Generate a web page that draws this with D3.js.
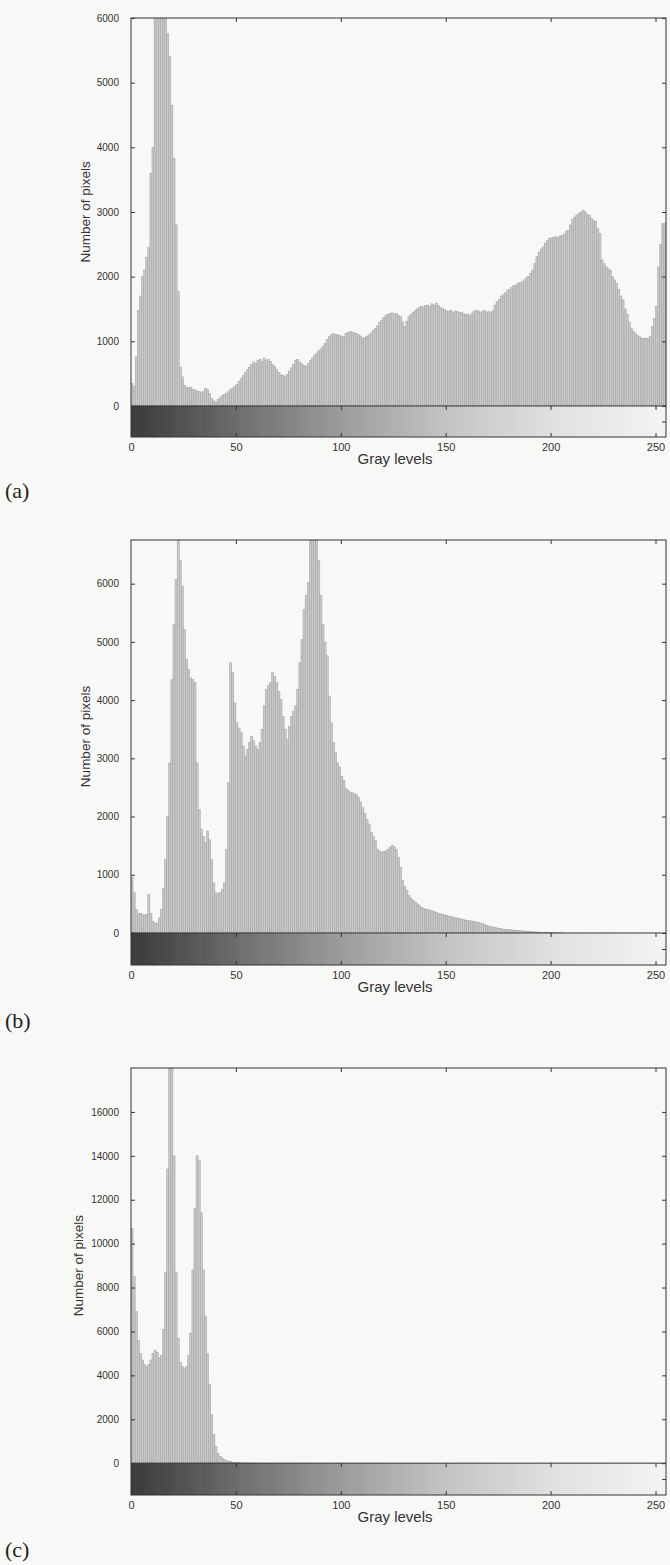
<!DOCTYPE html>
<html>
<head>
<meta charset="utf-8">
<script src="https://cdn.jsdelivr.net/npm/d3@7"></script>
<style>
  body { margin: 0; background: #f8f8f6; }
  svg text { font-family: "Liberation Sans", Arial, sans-serif; fill: #333; }
  .tick line { stroke: #333; }
  .panelLabel { font-family: "Liberation Serif", "Times New Roman", serif; font-size: 22px; fill: #222; }
</style>
</head>
<body>
<div id="chart"></div>
<script>
// Histogram counts, one value per gray level 0..255
var histA = [
  350, 300, 760, 1480, 1700, 2000, 2100, 2300, 2450, 3600, 4000, 6500, 7200, 7800, 8000, 7600,
  6800, 5760, 5400, 4650, 3830, 2800, 1770, 600, 450, 320, 290, 280, 290, 260, 250, 230,
  220, 210, 220, 270, 260, 190, 120, 80, 60, 100, 130, 160, 180, 200, 220, 250,
  270, 300, 330, 380, 420, 470, 520, 560, 600, 640, 680, 660, 700, 720, 690, 740,
  700, 720, 690, 640, 610, 560, 520, 480, 470, 460, 490, 540, 590, 640, 700, 720,
  680, 650, 630, 610, 660, 700, 740, 780, 810, 850, 880, 920, 970, 1030, 1070, 1100,
  1120, 1110, 1100, 1090, 1070, 1080, 1120, 1140, 1150, 1140, 1130, 1120, 1100, 1080, 1050, 1060,
  1080, 1100, 1130, 1170, 1200, 1240, 1290, 1320, 1370, 1400, 1420, 1430, 1440, 1420, 1430, 1400,
  1380, 1300, 1230, 1310, 1380, 1420, 1450, 1480, 1500, 1520, 1540, 1530, 1550, 1560, 1540, 1580,
  1560, 1590, 1550, 1520, 1510, 1490, 1470, 1460, 1480, 1450, 1470, 1460, 1440, 1450, 1430, 1410,
  1420, 1400, 1430, 1460, 1480, 1470, 1450, 1460, 1480, 1450, 1460, 1440, 1470, 1560, 1610, 1650,
  1700, 1720, 1750, 1790, 1800, 1830, 1860, 1870, 1900, 1910, 1920, 1950, 1980, 2000, 2050, 2100,
  2200, 2310, 2380, 2430, 2460, 2520, 2560, 2590, 2600, 2610, 2620, 2600, 2630, 2640, 2660, 2700,
  2720, 2800, 2880, 2920, 2950, 2980, 3000, 3030, 3000, 2960, 2950, 2900, 2870, 2850, 2750, 2670,
  2260, 2200, 2150, 2120, 2100, 2000, 1950, 1900, 1800, 1700, 1640, 1500, 1420, 1300, 1200, 1150,
  1120, 1090, 1070, 1050, 1040, 1050, 1050, 1080, 1230, 1350, 1540, 2150, 2500, 2820, 2820, 2850
];

var histB = [
  950, 690, 400, 340, 340, 320, 310, 320, 660, 340, 200, 170, 170, 260, 400, 770,
  1260, 2000, 2920, 4350, 5300, 6070, 7200, 6400, 5960, 5210, 4700, 4530, 4380, 4350, 4300, 2920,
  2120, 1780, 1660, 1550, 1750, 1600, 1260, 860, 690, 680, 700, 745, 860, 1430, 2580, 4640,
  4470, 3950, 3610, 3520, 3440, 3210, 3040, 3150, 3270, 3380, 3300, 3210, 3150, 3270, 3500, 3900,
  4180, 4250, 4300, 4470, 4410, 4300, 4150, 4010, 3720, 3500, 3320, 3550, 3720, 3800, 3900, 4180,
  4640, 5040, 5560, 5800, 6020, 7000, 7400, 7100, 6900, 6400, 5800, 5300, 5000, 4760, 4070, 3610,
  3270, 3100, 2920, 2850, 2690, 2620, 2480, 2450, 2420, 2410, 2390, 2380, 2330, 2250, 2150, 2050,
  1950, 1870, 1730, 1660, 1590, 1440, 1410, 1390, 1400, 1410, 1440, 1470, 1500, 1480, 1440, 1300,
  1130, 900, 800, 730, 640, 600, 560, 530, 500, 470, 440, 425, 410, 400, 390, 380,
  370, 355, 340, 330, 320, 310, 300, 290, 280, 270, 265, 255, 250, 240, 230, 220,
  215, 210, 205, 200, 190, 180, 170, 160, 145, 130, 120, 110, 100, 95, 85, 80,
  75, 65, 60, 58, 55, 52, 50, 47, 43, 40, 37, 33, 30, 27, 23, 20,
  18, 16, 15, 13, 12, 10, 8, 7, 6, 5, 4, 3, 2, 1, 0, 0,
  0, 0, 0, 0, 0, 0, 0, 0, 0, 0, 0, 0, 0, 0, 0, 0,
  0, 0, 0, 0, 0, 0, 0, 0, 0, 0, 0, 0, 0, 0, 0, 0,
  0, 0, 0, 0, 0, 0, 0, 0, 0, 0, 0, 0, 0, 0, 0, 0
];

var histC = [
  10700, 8500, 6900, 5600, 5000, 4700, 4500, 4400, 4500, 4700, 5000, 5150, 5050, 4800, 4900, 6100,
  8700, 13400, 19500, 18500, 14000, 8700, 5700, 4600, 4400, 4300, 4400, 4900, 5900, 8800, 11600, 14000,
  13800, 11400, 8800, 6700, 5000, 3600, 2200, 1300, 750, 450, 300, 230, 160, 120, 90, 70,
  50, 35, 25, 20, 15, 12, 10, 8, 6, 5, 4, 3, 2, 0, 0, 0,
  0, 0, 0, 0, 0, 0, 0, 0, 0, 0, 0, 0, 0, 0, 0, 0,
  0, 0, 0, 0, 0, 0, 0, 0, 0, 0, 0, 0, 0, 0, 0, 0,
  0, 0, 0, 0, 0, 0, 0, 0, 0, 0, 0, 0, 0, 0, 0, 0,
  0, 0, 0, 0, 0, 0, 0, 0, 0, 0, 0, 0, 0, 0, 0, 0,
  0, 0, 0, 0, 0, 0, 0, 0, 0, 0, 0, 0, 0, 0, 0, 0,
  0, 0, 0, 0, 0, 0, 0, 0, 0, 0, 0, 0, 0, 0, 0, 0,
  0, 0, 0, 0, 0, 0, 0, 0, 0, 0, 0, 0, 0, 0, 0, 0,
  0, 0, 0, 0, 0, 0, 0, 0, 0, 0, 0, 0, 0, 0, 0, 0,
  0, 0, 0, 0, 0, 0, 0, 0, 0, 0, 0, 0, 0, 0, 0, 0,
  0, 0, 0, 0, 0, 0, 0, 0, 0, 0, 0, 0, 0, 0, 0, 0,
  0, 0, 0, 0, 0, 0, 0, 0, 0, 0, 0, 0, 0, 0, 0, 0,
  0, 0, 0, 0, 0, 0, 0, 0, 0, 0, 0, 0, 0, 0, 0, 0
];

var xTicks = [0, 50, 100, 150, 200, 250];
var yTicksA = [0, 1000, 2000, 3000, 4000, 5000, 6000];
var yTicksB = [0, 1000, 2000, 3000, 4000, 5000, 6000];
var yTicksC = [0, 2000, 4000, 6000, 8000, 10000, 12000, 14000, 16000];
var panelLabels = ["(a)", "(b)", "(c)"];

var width = 670;
var height = 1565;
var plotLeft = 131;
var plotRight = 666;
var tickLen = 4;

var svg = d3.select("#chart")
  .append("svg")
  .attr("width", width)
  .attr("height", height);

//Gray ramp for the strip under each histogram
var grayRamp = d3.scaleLinear()
  .domain([0, 50, 100, 150, 200, 255])
  .range(["#3a3a3a", "#6c6c6c", "#9c9c9c", "#c4c4c4", "#e0e0e0", "#f4f4f4"]);

var panels = [
  { values: histA, yTicks: yTicksA, yDomain: [-480, 6000], top: 18, bottom: 437, label: panelLabels[0], labelY: 498, titleX: 90 },
  { values: histB, yTicks: yTicksB, yDomain: [-550, 6750], top: 540, bottom: 965, label: panelLabels[1], labelY: 1028, titleX: 90 },
  { values: histC, yTicks: yTicksC, yDomain: [-1450, 18000], top: 1068, bottom: 1495, label: panelLabels[2], labelY: 1557, titleX: 83 }
];

panels.forEach(function(p, n) {
  drawPanel(p, n);
});

/**
* Draw one histogram with its gray strip and frame
*/
function drawPanel(p, n) {
  var g = svg.append("g").attr("class", "panel");

  var xScale = d3.scaleLinear().domain([0, 255]).range([plotLeft, plotRight]);
  var yScale = d3.scaleLinear().domain(p.yDomain).range([p.bottom, p.top]);
  var zeroY = yScale(0);
  var binW = xScale(1) - xScale(0);

  g.append("clipPath")
    .attr("id", "clip" + n)
    .append("rect")
    .attr("x", plotLeft)
    .attr("y", p.top)
    .attr("width", plotRight - plotLeft)
    .attr("height", zeroY - p.top);

  //histogram bars
  g.append("g")
    .attr("clip-path", "url(#clip" + n + ")")
    .selectAll("rect")
    .data(p.values)
    .enter()
    .append("rect")
    .attr("x", function(d, i) { return xScale(i); })
    .attr("width", binW)
    .attr("y", function(d) { return yScale(d); })
    .attr("height", function(d) { return zeroY - yScale(d); })
    .attr("fill", "#c8c8c8")
    .attr("stroke", "#a2a2a2")
    .attr("stroke-width", 0.5);

  //gray level strip
  g.append("g")
    .selectAll("rect")
    .data(d3.range(256))
    .enter()
    .append("rect")
    .attr("x", function(d) { return xScale(d); })
    .attr("width", function(d) { return Math.min(binW + 0.6, plotRight - xScale(d)); })
    .attr("y", zeroY)
    .attr("height", p.bottom - zeroY)
    .attr("fill", function(d) { return grayRamp(d); });

  //frame and zero line
  g.append("rect")
    .attr("x", plotLeft)
    .attr("y", p.top)
    .attr("width", plotRight - plotLeft)
    .attr("height", p.bottom - p.top)
    .attr("fill", "none")
    .attr("stroke", "#333")
    .attr("stroke-width", 1);

  g.append("line")
    .attr("x1", plotLeft).attr("x2", plotRight)
    .attr("y1", zeroY).attr("y2", zeroY)
    .attr("stroke", "#333");

  //left axis with labels, ticks point inward
  var yAxis = d3.axisLeft(yScale)
    .tickValues(p.yTicks)
    .tickSizeInner(-tickLen)
    .tickSizeOuter(0)
    .tickPadding(12)
    .tickFormat(d3.format("d"));
  var yG = g.append("g")
    .attr("transform", "translate(" + plotLeft + ",0)")
    .call(yAxis);
  yG.select(".domain").remove();
  yG.selectAll("text").style("font-size", "10px");

  //right axis, ticks only (also one in the middle of the strip)
  var rightAxis = d3.axisRight(yScale)
    .tickValues(p.yTicks.concat([p.yDomain[0] / 2]))
    .tickSizeInner(-tickLen)
    .tickSizeOuter(0)
    .tickFormat("");
  var rG = g.append("g")
    .attr("transform", "translate(" + plotRight + ",0)")
    .call(rightAxis);
  rG.select(".domain").remove();

  //bottom axis with labels
  var xAxis = d3.axisBottom(xScale)
    .tickValues(xTicks)
    .tickSizeInner(-tickLen)
    .tickSizeOuter(0)
    .tickPadding(6);
  var xG = g.append("g")
    .attr("transform", "translate(0," + p.bottom + ")")
    .call(xAxis);
  xG.select(".domain").remove();
  xG.selectAll("text").style("font-size", "11px");

  //top axis and zero line ticks
  var topAxis = d3.axisTop(xScale)
    .tickValues(xTicks.slice(1))
    .tickSizeInner(-tickLen)
    .tickSizeOuter(0)
    .tickFormat("");
  var tG = g.append("g")
    .attr("transform", "translate(0," + p.top + ")")
    .call(topAxis);
  tG.select(".domain").remove();

  var zeroAxis = d3.axisBottom(xScale)
    .tickValues(xTicks.slice(1))
    .tickSizeInner(tickLen)
    .tickSizeOuter(0)
    .tickFormat("");
  var zG = g.append("g")
    .attr("transform", "translate(0," + zeroY + ")")
    .call(zeroAxis);
  zG.select(".domain").remove();

  //axis titles
  g.append("text")
    .attr("transform", "translate(" + p.titleX + "," + ((p.top + zeroY) / 2) + ")rotate(-90)")
    .attr("text-anchor", "middle")
    .style("font-size", "13.5px")
    .text("Number of pixels");

  g.append("text")
    .attr("x", 395)
    .attr("y", p.bottom + 27)
    .attr("text-anchor", "middle")
    .style("font-size", "15px")
    .text("Gray levels");

  g.append("text")
    .attr("class", "panelLabel")
    .attr("x", 5)
    .attr("y", p.labelY)
    .text(p.label);
}
</script>
</body>
</html>
